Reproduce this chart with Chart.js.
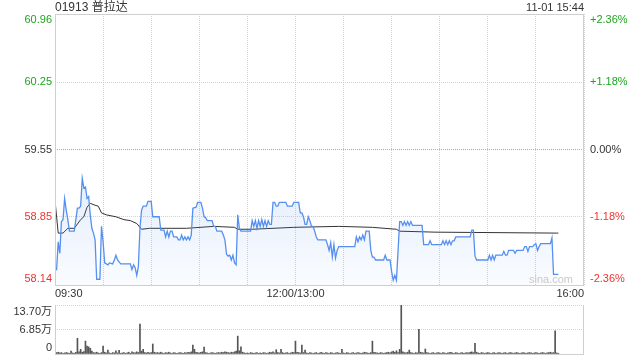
<!DOCTYPE html>
<html>
<head>
<meta charset="utf-8">
<script src="https://cdn.jsdelivr.net/npm/chart.js@4.4.0/dist/chart.umd.min.js"></script>
<style>
  html, body { margin: 0; padding: 0; background: #fff; }
  #wrap { position: relative; width: 640px; height: 360px; overflow: hidden; }
  canvas { position: absolute; left: 0; }
  #priceChart { top: 0; }
  #volChart { top: 300px; }
</style>
</head>
<body>
<div id="wrap">
  <canvas id="priceChart" width="640" height="300"></canvas>
  <canvas id="volChart" width="640" height="60"></canvas>
</div>
<script>
// --- datos (minutos desde 09:30, sin pausa de mediodía) ---
const title = '01913 普拉达';
const stamp = '11-01 15:44';

const priceMinutes = [
  0, 1, 2, 3, 4, 5, 6, 7, 8, 9,
  12, 13, 14, 15, 16, 17, 18, 19, 20, 21,
  22, 23, 24, 25, 26, 28, 29, 30, 31, 33,
  34, 36, 37, 38, 39, 40, 41, 47, 48, 49,
  50, 51, 52, 53, 54, 55, 57, 58, 60, 61,
  65, 66, 68, 69, 70, 71, 72, 73, 74, 76,
  77, 78, 79, 80, 81, 82, 83, 84, 85, 86,
  88, 89, 91, 92, 93, 94, 95, 98, 99, 100,
  101, 104, 105, 106, 107, 108, 109, 110, 111, 112,
  113, 114, 115, 116, 122, 123, 124, 125, 126, 127,
  128, 129, 130, 131, 132, 133, 134, 135, 136, 137,
  138, 139, 140, 144, 145, 148, 149, 152, 153, 154,
  155, 156, 157, 158, 159, 160, 161, 162, 163, 164,
  169, 170, 171, 172, 173, 174, 175, 176, 177, 187,
  188, 189, 190, 191, 192, 193, 194, 196, 197, 198,
  199, 200, 205, 206, 207, 209, 210, 211, 212, 213,
  215, 216, 217, 218, 219, 220, 221, 222, 223, 229,
  230, 233, 234, 235, 241, 242, 243, 244, 245, 246,
  247, 248, 249, 250, 259, 260, 261, 262, 263, 270,
  271, 272, 273, 274, 275, 279, 280, 281, 282, 283,
  286, 287, 288, 292, 293, 294, 295, 296, 298, 299,
  300, 301, 302, 303, 309, 310, 311, 314
];
const priceValues = [
  58.30, 58.30, 58.59, 58.47, 58.80, 58.82, 59.04, 58.92, 58.82, 58.70,
  58.70, 58.82, 58.94, 58.94, 58.96, 59.25, 59.15, 59.16, 59.04, 59.06,
  58.87, 58.73, 58.68, 58.61, 58.20, 58.20, 58.75, 58.59, 58.37, 58.35,
  58.37, 58.36, 58.40, 58.45, 58.40, 58.38, 58.36, 58.36, 58.30, 58.35,
  58.32, 58.24, 58.33, 58.73, 58.92, 58.96, 58.96, 59.01, 59.01, 58.85,
  58.85, 58.71, 58.71, 58.64, 58.70, 58.64, 58.70, 58.70, 58.64, 58.64,
  58.61, 58.61, 58.66, 58.61, 58.64, 58.61, 58.64, 58.61, 58.66, 58.94,
  58.95, 59.00, 59.00, 58.94, 58.85, 58.84, 58.81, 58.81, 58.75, 58.75,
  58.70, 58.70, 58.66, 58.61, 58.46, 58.44, 58.45, 58.40, 58.45, 58.37,
  58.35, 58.87, 58.73, 58.70, 58.70, 58.81, 58.75, 58.81, 58.73, 58.81,
  58.75, 58.82, 58.75, 58.81, 58.75, 58.81, 58.77, 58.77, 59.00, 59.00,
  58.96, 58.96, 59.00, 59.00, 58.96, 58.96, 59.00, 59.00, 58.89, 58.89,
  58.85, 58.77, 58.77, 58.85, 58.81, 58.75, 58.75, 58.70, 58.64, 58.61,
  58.61, 58.56, 58.50, 58.58, 58.43, 58.56, 58.42, 58.50, 58.54, 58.54,
  58.64, 58.59, 58.64, 58.61, 58.66, 58.61, 58.70, 58.70, 58.50, 58.43,
  58.43, 58.40, 58.40, 58.45, 58.40, 58.40, 58.28, 58.19, 58.24, 58.19,
  58.80, 58.80, 58.76, 58.80, 58.76, 58.80, 58.76, 58.80, 58.76, 58.76,
  58.56, 58.56, 58.60, 58.56, 58.56, 58.60, 58.56, 58.60, 58.56, 58.60,
  58.56, 58.60, 58.60, 58.64, 58.64, 58.71, 58.71, 58.44, 58.40, 58.40,
  58.45, 58.40, 58.45, 58.40, 58.45, 58.45, 58.49, 58.45, 58.45, 58.50,
  58.50, 58.47, 58.50, 58.50, 58.54, 58.54, 58.49, 58.54, 58.54, 58.56,
  58.57, 58.50, 58.54, 58.57, 58.57, 58.63, 58.25, 58.25
];

const avgMinutes = [0, 2, 5, 8, 12, 16, 18, 20, 22, 25, 27, 29, 32, 38, 43, 47, 51, 54, 59, 82,
  99, 112, 114, 123, 136, 149, 177, 198, 213, 215, 237, 313, 314];
const avgValues = [59.02, 58.68, 58.68, 58.73, 58.73, 58.82, 58.85, 58.95, 58.99, 58.97, 58.96, 58.89, 58.87, 58.85, 58.82, 58.81, 58.78, 58.72, 58.73, 58.73,
  58.75, 58.74, 58.72, 58.72, 58.73, 58.74, 58.75, 58.74, 58.72, 58.70, 58.69, 58.68, 58.68];

// volumen por minuto (万), 09:30 -> 15:44
const volumes = [
  0.8, 0.4, 0.5, 0.3, 0.4, 0.2, 0.3, 0.4, 0.3, 0.2, 0.8, 0.3, 0.2, 0.5, 4.4, 0.6, 1.3, 0.5, 0.7, 3.6, 2.2, 2.0, 1.6, 0.8, 0.4, 0.3, 0.5, 0.3, 0.2, 0.4,
  2.2, 0.5, 0.3, 1.1, 0.3, 0.2, 0.4, 0.3, 0.9, 0.3, 1.0, 0.2, 0.3, 0.4, 0.2, 0.3, 0.5, 0.2, 0.6, 0.4, 0.3, 0.6, 0.4, 8.4, 0.8, 1.3, 0.4, 0.3, 0.5, 0.3,
  0.4, 2.8, 0.5, 0.3, 0.4, 0.3, 0.5, 0.3, 0.2, 0.4, 0.3, 0.5, 0.3, 0.2, 0.4, 0.3, 0.2, 0.3, 0.4, 0.3, 0.2, 0.4, 0.3, 0.5, 0.4, 0.6, 2.5, 1.3, 0.5, 0.4,
  0.3, 0.5, 0.6, 1.9, 0.4, 0.3, 0.2, 0.3, 0.4, 0.3, 0.2, 0.3, 0.4, 0.3, 0.5, 0.4, 0.6, 0.5, 0.4, 0.3, 0.5, 0.4, 0.6, 0.8, 5.0, 0.9, 2.0, 0.5, 0.3, 0.2,
  0.3, 0.2, 0.4, 0.3, 0.2, 0.3, 0.4, 0.2, 0.3, 0.2, 0.4, 0.3, 0.2, 0.3, 0.5, 0.4, 0.6, 0.3, 1.2, 0.4, 0.3, 1.3, 0.4, 0.2, 0.3, 0.4, 0.2, 0.3, 0.5, 0.4,
  3.6, 0.5, 0.4, 0.3, 2.5, 0.4, 1.1, 0.3, 0.2, 0.4, 0.3, 0.2, 0.3, 0.4, 0.2, 0.3, 0.5, 0.3, 0.2, 0.4, 0.3, 0.2, 0.4, 0.3, 0.2, 0.3, 0.4, 0.3, 0.2, 1.3,
  0.3, 0.2, 0.4, 0.3, 0.2, 0.3, 0.4, 0.2, 0.3, 0.4, 0.3, 0.2, 0.3, 0.5, 0.4, 0.3, 0.2, 0.4, 3.6, 0.5, 0.4, 0.3, 0.2, 0.4, 0.3, 0.2, 0.3, 0.4, 0.5, 0.3,
  0.6, 0.8, 0.5, 0.9, 0.4, 1.3, 13.7, 0.6, 0.4, 0.3, 0.5, 1.1, 0.4, 0.3, 0.2, 0.4, 0.3, 6.9, 0.5, 0.4, 0.3, 1.4, 0.4, 0.3, 0.2, 0.3, 0.4, 0.2, 0.3, 0.4,
  0.3, 0.2, 0.4, 0.3, 0.2, 0.3, 0.4, 0.5, 0.3, 0.2, 0.4, 0.3, 0.2, 0.3, 0.4, 0.2, 0.3, 0.4, 0.3, 0.5, 0.6, 0.4, 3.0, 0.5, 0.3, 0.2, 0.4, 0.3, 0.2, 0.3,
  0.4, 0.3, 0.2, 0.3, 0.4, 0.2, 0.3, 0.4, 0.3, 0.2, 0.3, 0.4, 0.2, 0.3, 0.4, 0.3, 0.2, 0.3, 0.4, 0.3, 0.2, 0.3, 0.4, 0.3, 0.2, 0.3, 0.4, 0.3, 0.2, 0.3,
  0.4, 0.3, 0.2, 0.3, 0.4, 0.3, 0.2, 0.3, 0.4, 0.5, 0.3, 0.4, 6.5, 0.3, 0.2
];

const priceTicks = [60.96, 60.25, 59.55, 58.85, 58.14];
const pctLabels = ['+2.36%', '+1.18%', '0.00%', '-1.18%', '-2.36%'];
const timeTickMinutes = [0, 150, 330];
const timeLabels = ['09:30', '12:00/13:00', '16:00'];
const volTicks = [13.70, 6.85, 0];
const volLabels = ['13.70万', '6.85万', '0'];

const FONT = '"Liberation Sans", Arial, "Noto Sans CJK SC", sans-serif';
const GREEN = '#1ea61e';
const RED = '#f23131';
const DARK = '#333';
const FRAME = '#cfcfcf';
const GRID = '#d2d2d2';

function labelColor(i) {
    if (pctLabels[i].startsWith('+')) return GREEN;
    if (pctLabels[i].startsWith('-')) return RED;
    return DARK;
}

// textos, marco y marca de agua del gráfico de precio
const priceDecor = {
    id: 'priceDecor',
    afterDraw(chart) {
        const { ctx, chartArea: a, scales } = chart;
        ctx.save();
        ctx.strokeStyle = FRAME;
        ctx.lineWidth = 1;
        ctx.strokeRect(a.left + 0.5, a.top + 0.5, a.right - a.left - 1, a.bottom - a.top);

        ctx.textBaseline = 'middle';
        ctx.font = '11px ' + FONT;
        priceTicks.forEach((v, i) => {
            let py = scales.y.getPixelForValue(v);
            py = Math.min(Math.max(py, a.top + 6), a.bottom - 6);
            ctx.fillStyle = labelColor(i);
            ctx.textAlign = 'right';
            ctx.fillText(v.toFixed(2), a.left - 3, py);
            ctx.textAlign = 'left';
            ctx.fillText(pctLabels[i], a.right + 6, py);
        });

        ctx.fillStyle = DARK;
        timeTickMinutes.forEach((m, i) => {
            const px = scales.x.getPixelForValue(m);
            ctx.textAlign = i === 0 ? 'left' : (i === timeTickMinutes.length - 1 ? 'right' : 'center');
            ctx.fillText(timeLabels[i], px, a.bottom + 9);
        });

        ctx.textAlign = 'right';
        ctx.fillText(stamp, a.right, 8);
        ctx.font = '12px ' + FONT;
        ctx.textAlign = 'left';
        ctx.fillText(title, a.left, 8);

        ctx.font = '11px ' + FONT;
        ctx.fillStyle = '#c9c9c9';
        ctx.textAlign = 'right';
        ctx.fillText('sina.com', a.right - 11, a.bottom - 5);
        ctx.restore();
    }
};

new Chart(document.getElementById('priceChart'), {
    type: 'line',
    data: {
        datasets: [{
            data: priceMinutes.map((m, i) => ({ x: m, y: priceValues[i] })),
            borderColor: '#5590f0',
            borderWidth: 1.3,
            fill: 'start',
            backgroundColor: (c) => {
                const a = c.chart.chartArea;
                if (!a) return 'rgba(85,144,240,0.08)';
                const g = c.chart.ctx.createLinearGradient(0, a.top + 160, 0, a.bottom);
                g.addColorStop(0, 'rgba(85,144,240,0.16)');
                g.addColorStop(1, 'rgba(85,144,240,0.03)');
                return g;
            }
        }, {
            data: avgMinutes.map((m, i) => ({ x: m, y: avgValues[i] })),
            borderColor: '#333',
            borderWidth: 1,
            fill: false
        }]
    },
    options: {
        responsive: false,
        animation: false,
        layout: { padding: { left: 55, right: 56, top: 14, bottom: 15 } },
        elements: { point: { radius: 0 }, line: { tension: 0 } },
        plugins: { legend: { display: false }, tooltip: { enabled: false } },
        scales: {
            x: {
                type: 'linear', min: 0, max: 330,
                ticks: { display: false, stepSize: 30 },
                grid: { color: GRID, drawTicks: false },
                border: { display: false, dash: [1, 1] }
            },
            y: {
                min: 58.14, max: 60.96,
                afterBuildTicks: s => { s.ticks = priceTicks.map(v => ({ value: v })); },
                ticks: { display: false },
                grid: { color: c => (c.tick && c.tick.value === 59.55 ? '#aaaaaa' : GRID), drawTicks: false },
                border: { display: false, dash: [1, 1] }
            }
        }
    },
    plugins: [priceDecor]
});

// gráfico de volumen
const volDecor = {
    id: 'volDecor',
    afterDraw(chart) {
        const { ctx, chartArea: a, scales } = chart;
        ctx.save();
        ctx.strokeStyle = FRAME;
        ctx.lineWidth = 1;
        ctx.beginPath();
        ctx.moveTo(a.left + 0.5, a.top);
        ctx.lineTo(a.left + 0.5, a.bottom + 0.5);
        ctx.lineTo(a.right - 0.5, a.bottom + 0.5);
        ctx.lineTo(a.right - 0.5, a.top);
        ctx.stroke();

        ctx.font = '11px ' + FONT;
        ctx.textBaseline = 'middle';
        ctx.textAlign = 'right';
        ctx.fillStyle = DARK;
        volTicks.forEach((v, i) => {
            let py = scales.y.getPixelForValue(v);
            py = Math.min(Math.max(py, a.top + 6.5), a.bottom - 6);
            ctx.fillText(volLabels[i], a.left - 3, py);
        });
        ctx.restore();
    }
};

new Chart(document.getElementById('volChart'), {
    type: 'bar',
    data: {
        datasets: [{
            data: volumes.map((v, i) => ({ x: i, y: v })),
            backgroundColor: '#555',
            barThickness: 1
        }]
    },
    options: {
        responsive: false,
        animation: false,
        layout: { padding: { left: 55, right: 56, top: 5, bottom: 6 } },
        plugins: { legend: { display: false }, tooltip: { enabled: false } },
        scales: {
            x: { type: 'linear', min: 0, max: 330, offset: false, display: false },
            y: {
                min: 0, max: 13.70,
                afterBuildTicks: s => { s.ticks = volTicks.map(v => ({ value: v })); },
                ticks: { display: false },
                grid: { color: GRID, drawTicks: false },
                border: { display: false, dash: [1, 1] }
            }
        }
    },
    plugins: [volDecor]
});
</script>
</body>
</html>
